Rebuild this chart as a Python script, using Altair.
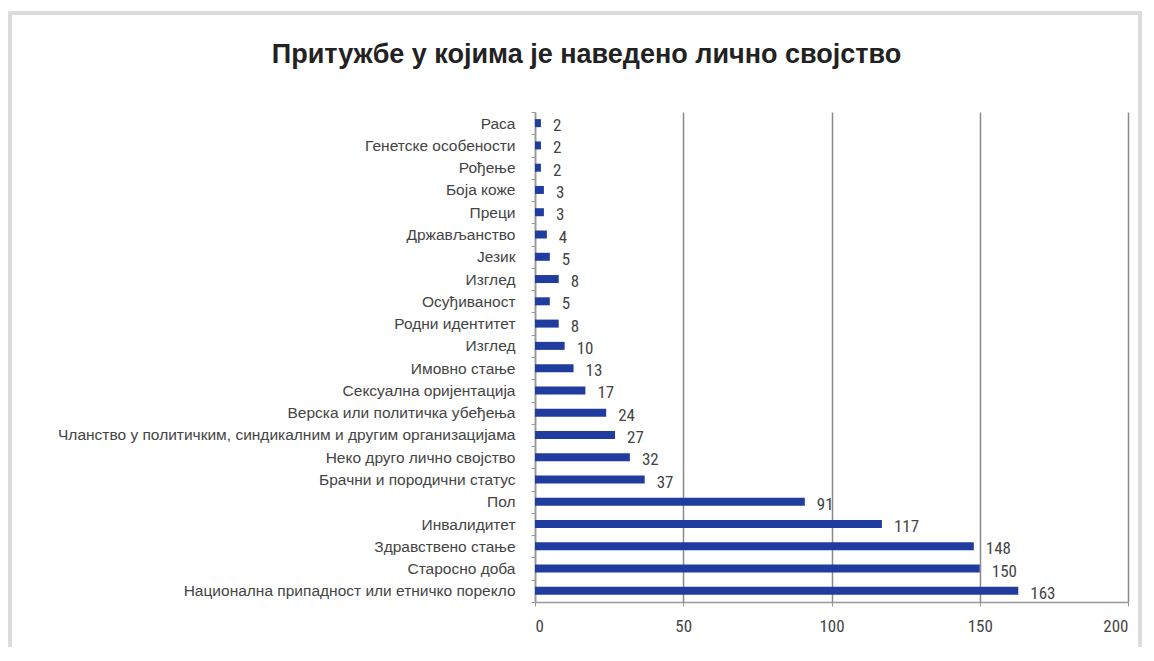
import altair as alt
import pandas as pd

categories = [
    "Раса", "Генетске особености", "Рођење", "Боја коже", "Преци",
    "Држављанство", "Језик", "Изглед", "Осуђиваност", "Родни идентитет",
    "Изглед ", "Имовно стање", "Сексуална оријентација",
    "Верска или политичка убеђења",
    "Чланство у политичким, синдикалним и другим организацијама",
    "Неко друго лично својство", "Брачни и породични статус", "Пол",
    "Инвалидитет", "Здравствено стање", "Старосно доба",
    "Национална припадност или етничко порекло",
]
values = [2, 2, 2, 3, 3, 4, 5, 8, 5, 8, 10, 13, 17, 24, 27, 32, 37, 91, 117, 148, 150, 163]
x_ticks = [0, 50, 100, 150, 200]

df = pd.DataFrame({"cat": categories, "val": values})

W, H = 593, 490
PL, PT = 527, 104
NARROW = "Liberation Sans Narrow, Roboto Condensed, Liberation Sans"

y_enc = alt.Y("cat:N", sort=categories, title=None,
              scale=alt.Scale(paddingInner=0, paddingOuter=0),
              axis=alt.Axis(labelFont="Liberation Sans",
                            labelFontSize=15.5, labelColor="#444", labelPadding=16,
                            labelLimit=520, tickSize=4, tickColor="#999",
                            domainColor="#999", domainWidth=1.5, grid=False,
                            tickBand="extent"))
x_enc = alt.X("val:Q", title=None,
              scale=alt.Scale(domain=[0, 200], nice=False),
              axis=alt.Axis(values=x_ticks, labelFontSize=17, labelColor="#444",
                            labelFont=NARROW,
                            labelPadding=12, tickSize=4, tickColor="#999",
                            domainColor="#999", domainWidth=1.5,
                            grid=True, gridColor="#8a8a8a", gridWidth=1.5))

bars = alt.Chart(df).mark_bar(size=8, color="#1f3c9e").encode(y=y_enc, x=x_enc)

labels = alt.Chart(df).mark_text(
    align="left", baseline="middle", dx=12, dy=3, fontSize=17, color="#444",
    font=NARROW,
).encode(y=alt.Y("cat:N", sort=categories), x="val:Q", text="val:Q")

frame = alt.Chart(df).mark_rect(fill=None, stroke="#dcdcdc", strokeWidth=3, clip=False).encode(
    x=alt.value(-PL + 2), x2=alt.value(W + 12),
    y=alt.value(-PT + 5), y2=alt.value(H + 52),
)

chart = alt.layer(frame, bars, labels).properties(
    width=W, height=H,
    title=alt.TitleParams(
        "Притужбе у којима је наведено лично својство",
        fontSize=27, fontWeight="bold", color="#222",
        font="Liberation Sans",
        anchor="middle", dx=-245, offset=-57,
    ),
    autosize=alt.AutoSizeParams(type="none"),
    padding={"left": PL, "top": PT, "right": 18, "bottom": 45},
).configure_view(stroke=None)

chart.save("out.html", embed_options={"renderer": "svg", "actions": False})
